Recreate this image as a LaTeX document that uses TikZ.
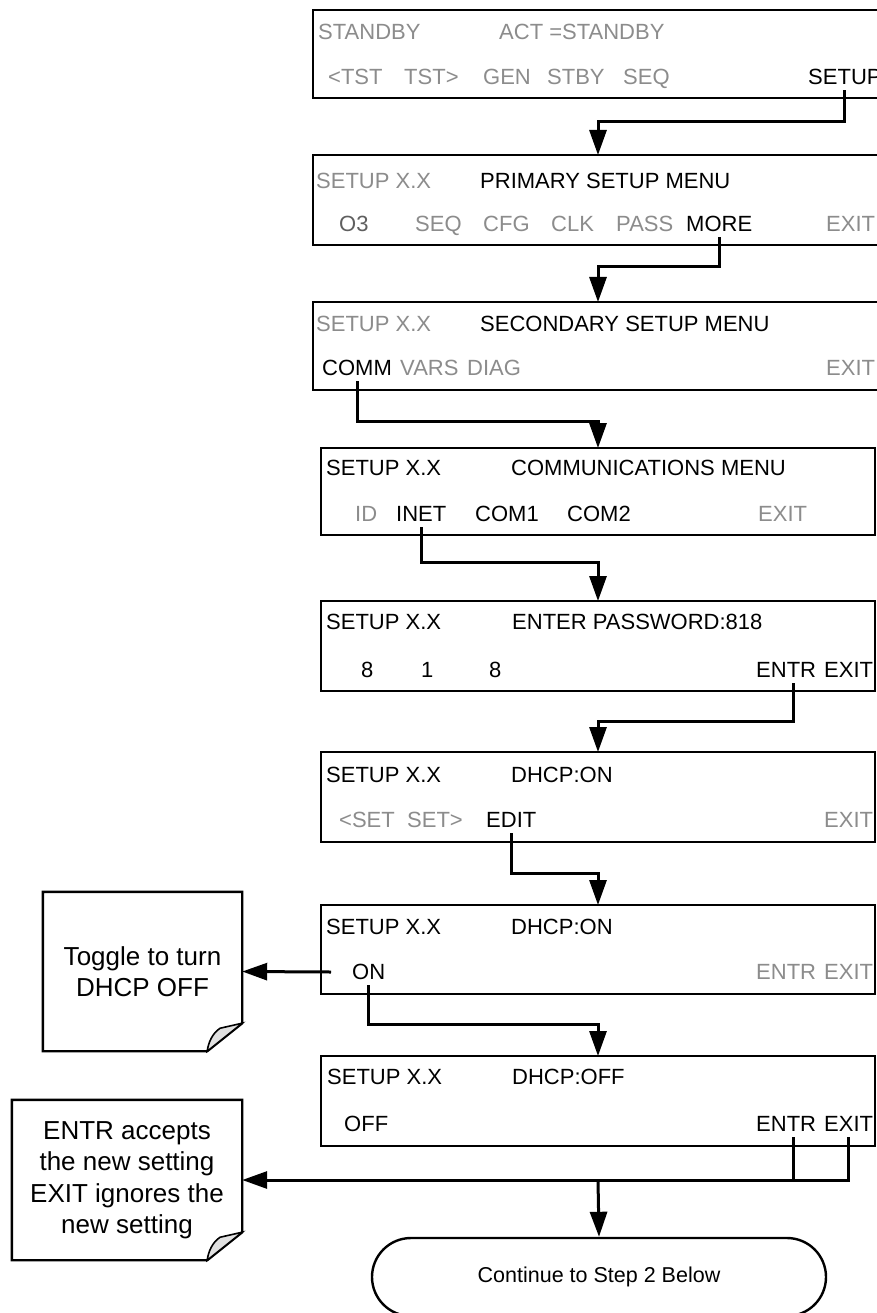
\documentclass[tikz,border=0pt]{standalone}
\usepackage{fontspec}
\setmainfont{Liberation Sans}
\usetikzlibrary{arrows.meta,calc,shapes.misc}
\definecolor{lcdgray}{RGB}{140,140,140}
\definecolor{lcddark}{RGB}{95,95,95}
\definecolor{curlfill}{RGB}{225,225,225}
\begin{document}
\begin{tikzpicture}[x=1pt,y=-1pt,
  lcdbox/.style={draw,line width=2.4pt,rectangle,inner sep=0pt,outer sep=0pt},
  lbl/.style={anchor=west,inner xsep=0pt,inner ysep=5pt,font=\fontsize{22}{26}\selectfont,text height=15.75pt,text depth=0pt},
  gl/.style={lbl,text=lcdgray},
  dl/.style={lbl,text=lcddark},
  kl/.style={lbl,text=black},
  conn/.style={line width=3pt},
  arr/.style={conn,-{Triangle[length=25pt,width=17pt]}},
  notebox/.style={align=center,font=\fontsize{26}{31.5}\selectfont,inner sep=0pt,draw=none},
  noteline/.style={line width=2.4pt,line join=miter},
  term/.style={rounded rectangle,draw,line width=2.4pt,font=\fontsize{21.5}{26}\selectfont,inner sep=0pt}
]
\clip (0,0) rectangle (877,1313);
\fill[white] (0,0) rectangle (877,1313);

% ---- boxes ----
\node[lcdbox,minimum width=586pt,minimum height=88pt] (b1) at (606,54) {};
\node[lcdbox,minimum width=586pt,minimum height=90pt] (b2) at (606,200) {};
\node[lcdbox,minimum width=586pt,minimum height=88pt] (b3) at (606,346) {};
\node[lcdbox,minimum width=554pt,minimum height=87pt] (b4) at (598,491.5) {};
\node[lcdbox,minimum width=554pt,minimum height=90pt] (b5) at (598,646) {};
\node[lcdbox,minimum width=554pt,minimum height=90pt] (b6) at (598,797) {};
\node[lcdbox,minimum width=554pt,minimum height=89pt] (b7) at (598,949.5) {};
\node[lcdbox,minimum width=554pt,minimum height=90pt] (b8) at (598,1101) {};

% ---- box 1 ----
\node[gl] (l1a) at (318,32) {STANDBY};
\node[gl] (l1b) at (499,32) {ACT =STANDBY};
\node[gl] (l1c) at (328,77) {<TST};
\node[gl] (l1d) at (404,77) {TST>};
\node[gl] (l1e) at (483,77) {GEN};
\node[gl] (l1f) at (547,77) {STBY};
\node[gl] (l1g) at (623,77) {SEQ};
\node[kl] (setup) at (808,77) {SETUP};

% ---- box 2 ----
\node[gl] (l2a) at (316,181) {SETUP X.X};
\node[kl] (l2b) at (480,181) {PRIMARY SETUP MENU};
\node[dl] (l2c) at (339,224) {O3};
\node[gl] (l2d) at (415,224) {SEQ};
\node[gl] (l2e) at (483,224) {CFG};
\node[gl] (l2f) at (551,224) {CLK};
\node[gl] (l2g) at (616,224) {PASS};
\node[kl] (more) at (686,224) {MORE};
\node[gl] (l2h) at (826,224) {EXIT};

% ---- box 3 ----
\node[gl] (l3a) at (316,324) {SETUP X.X};
\node[kl] (l3b) at (480,324) {SECONDARY SETUP MENU};
\node[kl] (comm) at (322,368) {COMM};
\node[gl] (l3c) at (400,368) {VARS};
\node[gl] (l3d) at (467,368) {DIAG};
\node[gl] (l3e) at (826,368) {EXIT};

% ---- box 4 ----
\node[kl] (l4a) at (326,468) {SETUP X.X};
\node[kl] (l4b) at (511,468) {COMMUNICATIONS MENU};
\node[gl] (l4c) at (355,514) {ID};
\node[kl] (inet) at (396,514) {INET};
\node[kl] (l4d) at (475,514) {COM1};
\node[kl] (l4e) at (567,514) {COM2};
\node[gl] (l4f) at (758,514) {EXIT};

% ---- box 5 ----
\node[kl] (l5a) at (326,622) {SETUP X.X};
\node[kl] (l5b) at (512,622) {ENTER PASSWORD:818};
\node[kl] (l5c) at (361,670) {8};
\node[kl] (l5d) at (421,670) {1};
\node[kl] (l5e) at (489,670) {8};
\node[kl] (entr5) at (756,670) {ENTR};
\node[kl] (l5f) at (824,670) {EXIT};

% ---- box 6 ----
\node[kl] (l6a) at (326,775) {SETUP X.X};
\node[kl] (l6b) at (511,775) {DHCP:ON};
\node[gl] (l6c) at (339,820) {<SET};
\node[gl] (l6d) at (407,820) {SET>};
\node[kl] (edit) at (486,820) {EDIT};
\node[gl] (l6e) at (824,820) {EXIT};

% ---- box 7 ----
\node[kl] (l7a) at (326,927) {SETUP X.X};
\node[kl] (l7b) at (511,927) {DHCP:ON};
\node[kl] (on) at (352,972) {ON};
\node[gl] (l7c) at (756,972) {ENTR};
\node[gl] (l7d) at (824,972) {EXIT};

% ---- box 8 ----
\node[kl] (l8a) at (327,1077) {SETUP X.X};
\node[kl] (l8b) at (512,1077) {DHCP:OFF};
\node[kl] (l8c) at (344,1124) {OFF};
\node[kl] (entr8) at (756,1124) {ENTR};
\node[kl] (exit8) at (824,1124) {EXIT};

% ---- notes ----
\node[notebox,minimum width=199pt,minimum height=159pt] (n1) at (142.5,971.5) {Toggle to turn\\DHCP OFF};
\node[notebox,minimum width=230pt,minimum height=160pt] (n2) at (127,1180) {ENTR accepts\\the new setting\\EXIT ignores the\\new setting};
\foreach \n in {n1,n2}{
  \draw[noteline] (\n.north west) -- (\n.north east) -- ($(\n.south east)+(0,-28)$)
    -- ($(\n.south east)+(-35,0)$) -- (\n.south west) -- cycle;
  \draw[noteline,line width=1.6pt,fill=curlfill] ($(\n.south east)+(0,-28)$) -- ($(\n.south east)+(-22,-23)$)
    .. controls ($(\n.south east)+(-30,-18)$) and ($(\n.south east)+(-34,-8)$) .. ($(\n.south east)+(-35,0)$) -- cycle;
}

% ---- terminal ----
\node[term,minimum width=454pt,minimum height=78pt] (cont) at (599,1277) {Continue to Step 2 Below};

% ---- connectors ----
\coordinate (j1) at (598,122);
\coordinate (j2) at (598,267);
\coordinate (j3) at (598,421);
\coordinate (j4) at (598,562);
\coordinate (j5) at (598,721);
\coordinate (j6) at (598,873);
\coordinate (j7) at (598,1024);
\coordinate (j8) at (598,1180);
\coordinate (s7) at (331,972);
\coordinate (e5) at ($(entr5.south)+(7,0)$);
\coordinate (e8) at ($(entr8.south)+(7,0)$);

\draw[arr] (setup.south) |- (j1) -- (j1 |- b2.north);
\draw[arr] (more.south) |- (j2) -- (j2 |- b3.north);
\draw[arr] (comm.south) |- (j3) -- (j3 |- b4.north);
\draw[arr] (inet.south) |- (j4) -- (j4 |- b5.north);
\draw[arr] (e5) |- (j5) -- (j5 |- b6.north);
\draw[arr] (edit.south) |- (j6) -- (j6 |- b7.north);
\draw[arr] (on.south) |- (j7) -- (j7 |- b8.north);
\draw[arr] (s7) -- (n1.east);
\draw[conn] (e8) -- (e8 |- j8);
\draw[arr] (exit8.south) |- (n2.east);
\draw[arr] (j8) -- (cont.north);
\end{tikzpicture}
\end{document}
